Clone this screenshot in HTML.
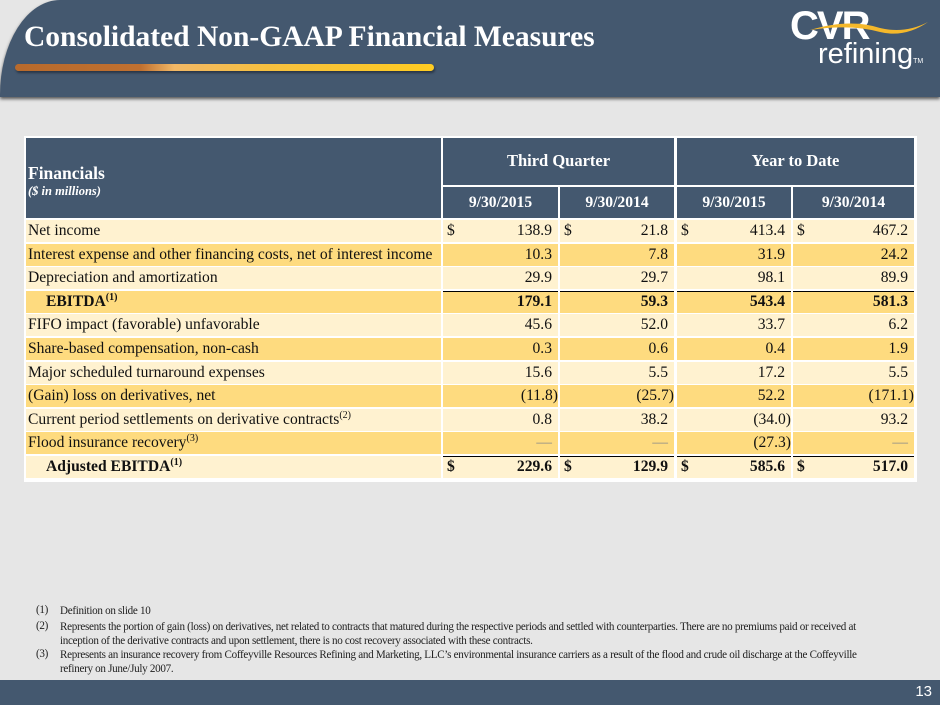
<!DOCTYPE html>
<html><head><meta charset="utf-8">
<style>
body{margin:0;width:940px;height:705px;background:#e6e6e6;position:relative;overflow:hidden;font-family:"Liberation Serif",serif;}
.abs{position:absolute;}
.cell{position:absolute;box-sizing:border-box;font-size:15.6px;line-height:22px;color:#111;white-space:nowrap;}
.hd{background:#44586f;color:#fff;font-weight:bold;text-align:center;}
.fn{position:absolute;left:36px;font-size:11.1px;color:#222;letter-spacing:-0.3px;white-space:nowrap;}
.fn span{position:absolute;left:24px;line-height:14px;top:0}
</style></head><body>
<div class="abs" style="left:0;top:0;width:940px;height:97px;background:#44586f;border-top-left-radius:60px 95px;box-shadow:0 2px 3px #555;"></div>
<div class="abs" style="left:24px;top:21px;font-size:29.5px;font-weight:bold;color:#fff;white-space:nowrap;">Consolidated Non-GAAP Financial Measures</div>
<div class="abs" style="left:15px;top:64px;width:419px;height:7px;border-radius:4px;background:linear-gradient(90deg,#b86a2c 0%,#c07030 30%,#f2b866 38%,#f6c040 60%,#ffcc22 100%);box-shadow:1px 2px 2px #2a3646;"></div>
<div class="abs" style="left:790px;top:8px;width:140px;height:70px;color:#fff;">
<div style="position:absolute;left:0;top:-4px;font-family:'Liberation Sans',sans-serif;font-weight:bold;font-size:40px;letter-spacing:-2px;">CVR</div>
<svg style="position:absolute;left:20px;top:8px" width="120" height="20"><path d="M0 14 Q40 2 70 12 Q95 18 118 6 Q95 22 70 16 Q40 8 0 14Z" fill="#f5b82a"/></svg>
<div style="position:absolute;left:28px;top:30px;font-family:'Liberation Sans',sans-serif;font-size:29px;">refining<span style="font-size:7px;">TM</span></div>
</div>

<div class="abs" style="left:24px;top:136px;width:893px;height:346px;background:#fff;"></div>
<div class="cell hd" style="left:26px;top:138px;width:415px;height:80px;text-align:left;padding:24px 0 0 2px;">
<div style="font-size:17.5px;">Financials</div><div style="font-size:12.5px;font-style:italic;line-height:14px;">($ in millions)</div></div>
<div class="cell hd" style="left:443px;top:138px;width:231px;height:47px;line-height:46px;font-size:16.5px;">Third Quarter</div>
<div class="cell hd" style="left:677px;top:138px;width:237px;height:47px;line-height:46px;font-size:16.5px;">Year to Date</div>
<div id="rows"></div>

<div class="fn" style="top:604px;">(1)<span>Definition on slide 10</span></div>
<div class="fn" style="top:620px;">(2)<span>Represents the portion of gain (loss) on derivatives, net related to contracts that matured during the respective periods and settled with counterparties. There are no premiums paid or received at<br>inception of the derivative contracts and upon settlement, there is no cost recovery associated with these contracts.</span></div>
<div class="fn" style="top:648px;">(3)<span>Represents an insurance recovery from Coffeyville Resources Refining and Marketing, LLC’s environmental insurance carriers as a result of the flood and crude oil discharge at the Coffeyville<br>refinery on June/July 2007.</span></div>

<div class="abs" style="left:0;top:680px;width:940px;height:25px;background:#44586f;"></div>
<div class="abs" style="right:8px;top:683px;color:#fff;font-family:'Liberation Sans',sans-serif;font-size:15px;">13</div>

<script>
const colHeads=["9/30/2015","9/30/2014","9/30/2015","9/30/2014"];
const labels=["Net income","Interest expense and other financing costs, net of interest income","Depreciation and amortization","EBITDA<sup>(1)</sup>","FIFO impact (favorable) unfavorable","Share-based compensation, non-cash","Major scheduled turnaround expenses","(Gain) loss on derivatives, net","Current period settlements on derivative contracts<sup>(2)</sup>","Flood insurance recovery<sup>(3)</sup>","Adjusted EBITDA<sup>(1)</sup>"];
const values=[["138.9","21.8","413.4","467.2"],["10.3","7.8","31.9","24.2"],["29.9","29.7","98.1","89.9"],["179.1","59.3","543.4","581.3"],["45.6","52.0","33.7","6.2"],["0.3","0.6","0.4","1.9"],["15.6","5.5","17.2","5.5"],["(11.8)","(25.7)","52.2","(171.1)"],["0.8","38.2","(34.0)","93.2"],["—","—","(27.3)","—"],["229.6","129.9","585.6","517.0"]];
const bold=[false,false,false,true,false,false,false,false,false,false,true];
const dollar=[true,false,false,false,false,false,false,false,false,false,true];
const cols=[[443,115],[560,114],[677,114],[793,121]];
const R=document.getElementById('rows');
function mk(name,st,html){const d=document.createElement('div');d.className='cell';


d.style.cssText=st;d.innerHTML=html;R.appendChild(d);return d;}
colHeads.forEach((h,j)=>{mk('column-header-'+(j+1),`left:${cols[j][0]}px;top:187px;width:${cols[j][1]}px;height:31px;line-height:31px;background:#44586f;color:#fff;font-weight:bold;text-align:center;`,h);});
labels.forEach((l,i)=>{
 const top=220+i*23.6, bg=i%2?'#fedb7f':'#fff2d0', fw=bold[i]?'bold':'normal', pad=bold[i]?20:2;
 mk('row-label-'+(i+1),`left:26px;top:${top}px;width:415px;height:22px;background:${bg};font-weight:${fw};padding-left:${pad}px;`,l.replace('<sup>','<sup style="font-size:10px;line-height:0">'));
 values[i].forEach((v,j)=>{
  const line=(i==3||i==10)?'border-top:1.5px solid #000;':'';
  const isDash=v==='—';
  const pr=v.endsWith(')')?0:6;
  mk('value-r'+(i+1)+'-c'+(j+1),`left:${cols[j][0]}px;top:${top}px;width:${cols[j][1]}px;height:22px;background:${bg};font-weight:${fw};text-align:right;padding-right:${pr}px;${line}line-height:${line?20:22}px;${isDash?'color:#888;':''}`,(dollar[i]?'<span style="position:absolute;left:4px">$</span>':'')+v);
 });
});
</script>
</body></html>
